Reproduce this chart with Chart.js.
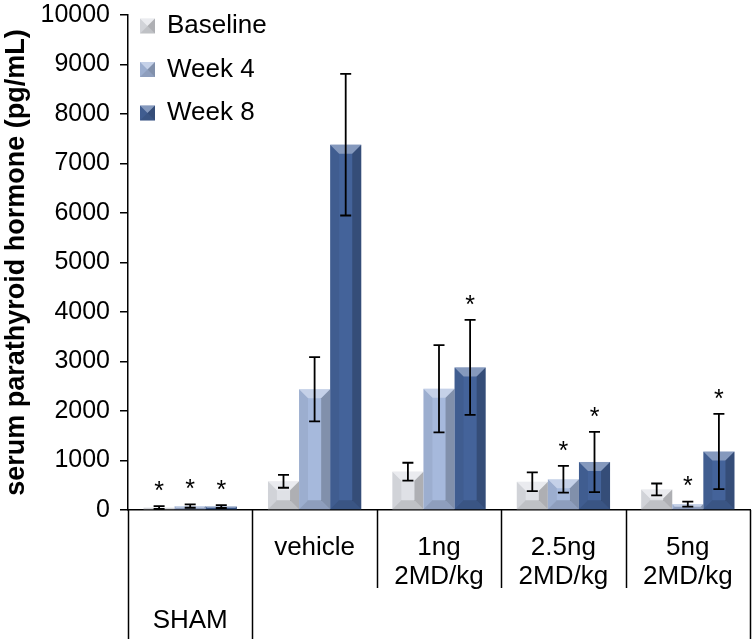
<!DOCTYPE html>
<html>
<head>
<meta charset="utf-8">
<script src="https://cdn.jsdelivr.net/npm/chart.js@4.4.1/dist/chart.umd.min.js"></script>
<style>
  body { margin: 0; background: #fff; }
</style>
</head>
<body>
<canvas id="pthChart" width="756" height="639"></canvas>
<script>
// groups and series
const groups = ["SHAM", "vehicle", "1ng 2MD/kg", "2.5ng 2MD/kg", "5ng 2MD/kg"];
const groupLines = [["SHAM"], ["vehicle"], ["1ng", "2MD/kg"], ["2.5ng", "2MD/kg"], ["5ng", "2MD/kg"]];
const seriesNames = ["Baseline", "Week 4", "Week 8"];

const baseline = [50, 580, 775, 570, 415];
const week4 = [80, 2440, 2450, 620, 120];
const week8 = [70, 7380, 2880, 970, 1180];

const baselineErr = [30, 130, 180, 190, 120];
const week4Err = [35, 650, 880, 270, 50];
const week8Err = [30, 1430, 960, 610, 760];

// significance markers (*)
const baselineStar = [true, false, false, false, false];
const week4Star = [true, false, false, true, true];
const week8Star = [true, false, true, true, true];

const yTicks = [0, 1000, 2000, 3000, 4000, 5000, 6000, 7000, 8000, 9000, 10000];

const FONT = "'Liberation Sans', Arial, Helvetica, sans-serif";
const faceColors = ["#dfe1e6", "#a6b9dc", "#44639a"];

// bevelled "pyramid" look for each bar
function poly(ctx, pts, fill) {
  ctx.fillStyle = fill;
  ctx.beginPath();
  ctx.moveTo(pts[0][0], pts[0][1]);
  for (let k = 1; k < pts.length; k++) ctx.lineTo(pts[k][0], pts[k][1]);
  ctx.closePath();
  ctx.fill();
}

function bevel(ctx, l, t, r, b, face) {
  const w = r - l, h = b - t;
  if (h <= 0) return;
  const s = Math.min(9, w / 2, h / 2);
  ctx.save();
  ctx.fillStyle = face;
  ctx.fillRect(l, t, w, h);
  poly(ctx, [[l, t], [r, t], [r - s, t + s], [l + s, t + s]], "rgba(255,255,255,0.35)");
  poly(ctx, [[l, t], [l + s, t + s], [l + s, b - s], [l, b]], "rgba(0,0,0,0.06)");
  poly(ctx, [[r, t], [r - s, t + s], [r - s, b - s], [r, b]], "rgba(0,0,0,0.22)");
  poly(ctx, [[l, b], [l + s, b - s], [r - s, b - s], [r, b]], "rgba(0,0,0,0.14)");
  ctx.restore();
}

const errs = [baselineErr, week4Err, week8Err];
const stars = [baselineStar, week4Star, week8Star];

const decorPlugin = {
  id: "decor",
  afterDatasetsDraw(chart) {
    const ctx = chart.ctx;
    const yScale = chart.scales.y;
    chart.data.datasets.forEach((ds, di) => {
      const meta = chart.getDatasetMeta(di);
      meta.data.forEach((bar, i) => {
        const p = bar.getProps(["x", "y", "base", "width"], true);
        const l = p.x - p.width / 2, r = p.x + p.width / 2;
        bevel(ctx, l, Math.min(p.y, p.base), r, Math.max(p.y, p.base), faceColors[di]);
        // error bars
        const v = ds.data[i], e = errs[di][i];
        const yTop = yScale.getPixelForValue(v + e);
        const yBot = yScale.getPixelForValue(Math.max(0, v - e));
        ctx.save();
        ctx.strokeStyle = "#000";
        ctx.lineWidth = 1.8;
        ctx.beginPath();
        ctx.moveTo(p.x, yTop); ctx.lineTo(p.x, yBot);
        ctx.moveTo(p.x - 5.5, yTop); ctx.lineTo(p.x + 5.5, yTop);
        ctx.moveTo(p.x - 5.5, yBot); ctx.lineTo(p.x + 5.5, yBot);
        ctx.stroke();
        if (stars[di][i]) {
          ctx.fillStyle = "#000";
          ctx.font = "25px " + FONT;
          ctx.textAlign = "center";
          ctx.textBaseline = "middle";
          ctx.fillText("*", p.x, yTop - 14);
        }
        ctx.restore();
      });
    });
  },
  afterDraw(chart) {
    const ctx = chart.ctx;
    const area = chart.chartArea;
    const catW = (area.right - area.left) / groups.length;
    const H = chart.height;
    ctx.save();
    ctx.strokeStyle = "#000";
    ctx.lineWidth = 1.5;
    for (let i = 0; i <= groups.length; i++) {
      const x = Math.round(area.left + i * catW) + 0.5;
      const end = (i === 0 || i === 1 || i === groups.length) ? H : area.bottom + 78;
      ctx.beginPath();
      ctx.moveTo(x, area.bottom);
      ctx.lineTo(x, end);
      ctx.stroke();
    }
    ctx.fillStyle = "#000";
    ctx.font = "26px " + FONT;
    ctx.textAlign = "center";
    ctx.textBaseline = "middle";
    groupLines.forEach((lines, i) => {
      const cx = area.left + (i + 0.5) * catW;
      if (i === 0) {
        ctx.fillText(lines[0], cx, area.bottom + 111);
      } else {
        lines.forEach((t, k) => ctx.fillText(t, cx, area.bottom + 38 + k * 29));
      }
    });
    // legend, top-left inside the plot
    seriesNames.forEach((name, k) => {
      const cy = area.top + 11 + k * 43.5;
      bevel(ctx, area.left + 12, cy - 7.5, area.left + 27, cy + 7.5, faceColors[k]);
      ctx.fillStyle = "#000";
      ctx.textAlign = "left";
      ctx.fillText(name, area.left + 39, cy);
    });
    ctx.restore();
  }
};

const ctx = document.getElementById("pthChart").getContext("2d");
new Chart(ctx, {
  type: "bar",
  data: {
    labels: groups,
    datasets: [
      { label: seriesNames[0], data: baseline, backgroundColor: "rgba(0,0,0,0)" },
      { label: seriesNames[1], data: week4, backgroundColor: "rgba(0,0,0,0)" },
      { label: seriesNames[2], data: week8, backgroundColor: "rgba(0,0,0,0)" },
    ],
  },
  options: {
    responsive: false,
    animation: false,
    categoryPercentage: 0.75,
    barPercentage: 1.0,
    layout: { padding: { top: 0, right: 6, left: 0, bottom: 0 } },
    plugins: {
      legend: { display: false },
      tooltip: { enabled: false },
    },
    scales: {
      x: {
        grid: { display: false },
        border: { color: "#000", width: 1.5 },
        ticks: { display: false },
        afterFit: (scale) => { scale.height = 129; },
      },
      y: {
        min: 0,
        max: 10000,
        afterBuildTicks: (scale) => { scale.ticks = yTicks.map((v) => ({ value: v })); },
        grid: { drawOnChartArea: false, drawTicks: true, tickLength: 8, color: "#000", lineWidth: 1.5 },
        border: { color: "#000", width: 1.5 },
        ticks: {
          color: "#000",
          padding: 10,
          font: { family: FONT, size: 25 },
          callback: (v) => String(v),
        },
        title: {
          display: true,
          text: "serum parathyroid hormone (pg/mL)",
          color: "#000",
          font: { family: FONT, size: 27, weight: "bold" },
          padding: { top: 0, bottom: 1 },
        },
        afterFit: (scale) => {
          scale.width = 128;
          scale.paddingTop = 15;
          scale.paddingBottom = 0;
        },
      },
    },
  },
  plugins: [decorPlugin],
});
</script>
</body>
</html>
